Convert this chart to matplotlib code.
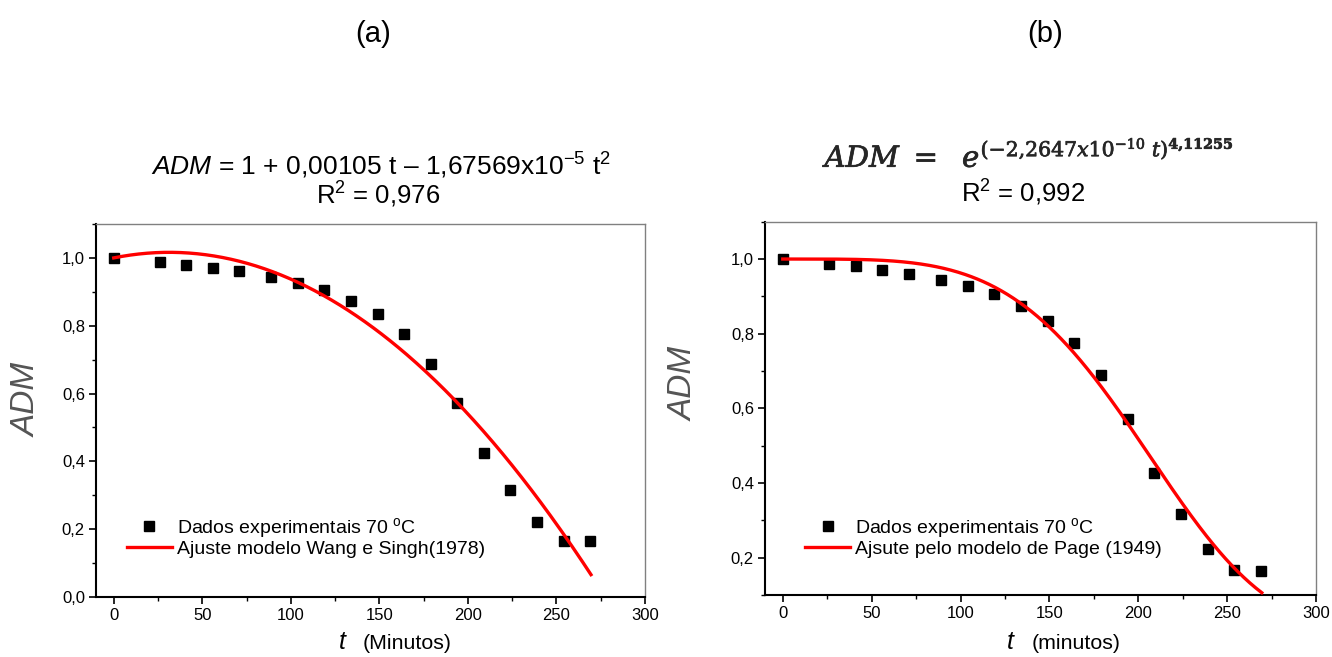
import numpy as np
import matplotlib
matplotlib.use("Agg")
import matplotlib.pyplot as plt
import matplotlib.patheffects as pe
from matplotlib.ticker import FixedLocator, MultipleLocator

plt.rcParams['font.family'] = ['Liberation Sans', 'DejaVu Sans']
plt.rcParams['mathtext.fontset'] = 'custom'
plt.rcParams['mathtext.rm'] = 'Liberation Sans'
plt.rcParams['mathtext.it'] = 'Liberation Sans:italic'
plt.rcParams['mathtext.bf'] = 'Liberation Sans:bold'

# Experimental drying data at 70 °C
t_min = [0, 26, 41, 56, 71, 89, 104, 119, 134, 149, 164, 179, 194, 209, 224, 239, 254, 269]
adm = [1.000, 0.988, 0.980, 0.970, 0.961, 0.945, 0.927, 0.905, 0.874, 0.835,
       0.775, 0.688, 0.571, 0.426, 0.317, 0.222, 0.166, 0.165]

# Model coefficients
wang_b, wang_c = 0.00105, -1.67569e-5        # ADM = 1 + b t + c t^2
page_k, page_n = 2.2647e-10, 4.11255         # ADM = exp(-k t^n)

x_ticks = [0, 50, 100, 150, 200, 250, 300]
x_labels = ['0', '50', '100', '150', '200', '250', '300']
y_ticks_a = [0.0, 0.2, 0.4, 0.6, 0.8, 1.0]
y_labels_a = ['0,0', '0,2', '0,4', '0,6', '0,8', '1,0']
y_ticks_b = [0.2, 0.4, 0.6, 0.8, 1.0]
y_labels_b = ['0,2', '0,4', '0,6', '0,8', '1,0']

W, H = 1332, 657
fig = plt.figure(figsize=(W / 100, H / 100), dpi=100)


def fx(px):
    return px / W


def fy(py):
    return 1 - py / H


axA = fig.add_axes([fx(96), fy(597), 549 / W, 373 / H])
axB = fig.add_axes([fx(765), fy(595), 551 / W, 373.3 / H])

t_fit = np.linspace(0, t_min[-1] + 0.5, 400)
fit_a = 1 + wang_b * t_fit + wang_c * t_fit ** 2
fit_b = np.exp(-page_k * t_fit ** page_n)

leg_font = 14
for ax, fit, lab, yt, yl, ylo, legx, legy in [
        (axA, fit_a, 'Ajuste modelo Wang e Singh(1978)', y_ticks_a, y_labels_a, 0.0, 0.056, 0.161),
        (axB, fit_b, 'Ajsute pelo modelo de Page (1949)', y_ticks_b, y_labels_b, 0.1, 0.0726, 0.155)]:
    ax.plot(t_min, adm, 's', color='black', ms=6.5, ls='none', zorder=2,
            label='Dados experimentais 70 $^{\\mathrm{o}}$C')
    ax.plot(t_fit, fit, '-', color='#ff0000', lw=2.4, zorder=3, label=lab)
    ax.set_xlim(-10, 300)
    ax.set_ylim(ylo, 1.1)
    ax.xaxis.set_major_locator(FixedLocator(x_ticks))
    ax.set_xticklabels(x_labels)
    ax.xaxis.set_minor_locator(MultipleLocator(25))
    ax.yaxis.set_major_locator(FixedLocator(yt))
    ax.set_yticklabels(yl)
    ax.yaxis.set_minor_locator(MultipleLocator(0.1))
    ax.tick_params(which='major', direction='out', length=5, width=1.2,
                   labelsize=12, pad=3, top=False, right=False)
    ax.tick_params(which='minor', direction='out', length=3, width=1.0,
                   top=False, right=False)
    for s in ('left', 'bottom'):
        ax.spines[s].set_linewidth(1.5)
        ax.spines[s].set_color('black')
    for s in ('top', 'right'):
        ax.spines[s].set_linewidth(1.0)
        ax.spines[s].set_color('#808080')
    ax.legend(loc='center left', bbox_to_anchor=(legx, legy), frameon=False,
              fontsize=leg_font, borderpad=0, borderaxespad=0,
              handlelength=2.32, handletextpad=0.26, labelspacing=0.02,
              markerscale=1.0, numpoints=1)

# Panel letters
fig.text(fx(373), fy(34), '(a)', fontsize=21, ha='center', va='center')
fig.text(fx(1045), fy(34), '(b)', fontsize=21, ha='center', va='center')

# Model equations
fig.text(fx(381), fy(166), r'$\mathit{ADM}$ = 1 + 0,00105 t – 1,67569x10$^{-5}$ t$^{2}$',
         fontsize=19, ha='center', va='center')
fig.text(fx(378), fy(195), 'R$^{2}$ = 0,976', fontsize=18.5, ha='center', va='center')

fig.text(fx(1030), fy(167),
         r'$ADM\ =\ \ e^{(-2{,}2647x10^{-10}\ t)^{\mathbf{4{,}11255}}}$',
         fontsize=21, ha='center', va='baseline', math_fontfamily='dejavuserif',
         color='#262626',
         path_effects=[pe.withStroke(linewidth=0.5, foreground='#262626')])
fig.text(fx(1023), fy(193), 'R$^{2}$ = 0,992', fontsize=18.5, ha='center', va='center')

# Axis titles
fig.text(fx(27.5), fy(400), 'ADM', fontsize=24, style='italic', rotation=90,
         ha='center', va='center', color='#555555')
fig.text(fx(684), fy(384), 'ADM', fontsize=24, style='italic', rotation=90,
         ha='center', va='center', color='#555555')

fig.text(fx(342), fy(649), 't', fontsize=18, style='italic', ha='center', va='baseline')
fig.text(fx(363), fy(649), '(Minutos)', fontsize=15.4, ha='left', va='baseline')
fig.text(fx(1010), fy(649), 't', fontsize=18, style='italic', ha='center', va='baseline')
fig.text(fx(1032), fy(649), '(minutos)', fontsize=15.4, ha='left', va='baseline')

fig.savefig('out.png', dpi=100)
